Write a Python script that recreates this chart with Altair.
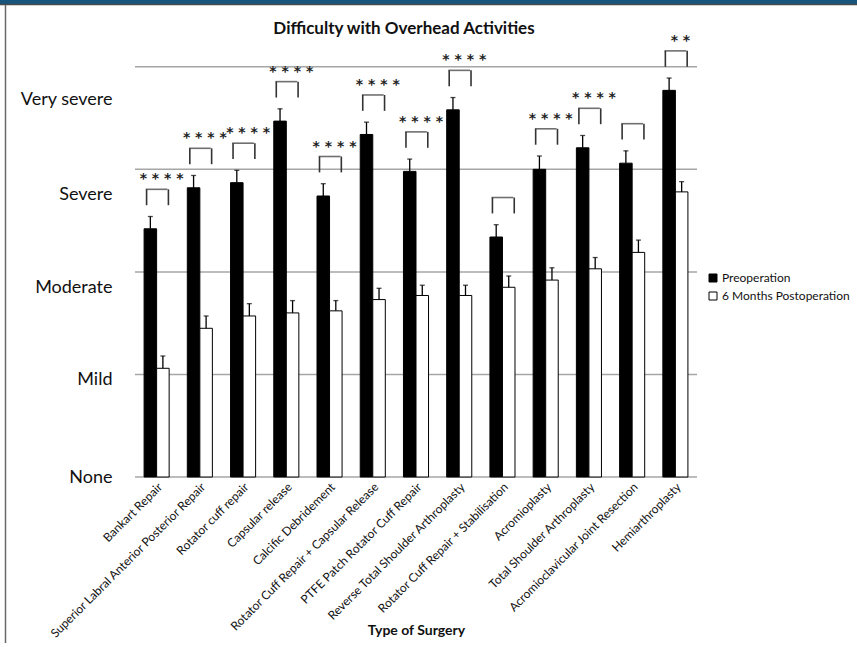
import json
import altair as alt
import pandas as pd

# Surgery types, left to right
categories = [
    "Bankart Repair",
    "Superior Labral Anterior Posterior Repair",
    "Rotator cuff repair",
    "Capsular release",
    "Calcific Debridement",
    "Rotator Cuff Repair + Capsular Release",
    "PTFE Patch Rotator Cuff Repair",
    "Reverse Total Shoulder Arthroplasty",
    "Rotator Cuff Repair + Stabilisation",
    "Acromioplasty",
    "Total Shoulder Arthroplasty",
    "Acromioclavicular Joint Resection",
    "Hemiarthroplasty",
]

periods = ["Preoperation", "6 Months Postoperation"]

# Mean difficulty score (0 = None ... 4 = Very severe) and error
preop = [2.42, 2.82, 2.87, 3.47, 2.74, 3.34, 2.98, 3.58, 2.34, 3.00, 3.21, 3.06, 3.77]
preop_err = [0.12, 0.12, 0.12, 0.12, 0.12, 0.12, 0.12, 0.12, 0.12, 0.13, 0.12, 0.12, 0.12]
postop = [1.06, 1.45, 1.57, 1.60, 1.62, 1.73, 1.77, 1.77, 1.85, 1.92, 2.03, 2.19, 2.78]
postop_err = [0.12, 0.12, 0.12, 0.12, 0.10, 0.11, 0.10, 0.10, 0.11, 0.12, 0.11, 0.12, 0.10]

# Significance of the pre/post difference
significance = ["****", "****", "****", "****", "****", "****", "****", "****",
                "", "****", "****", "", "**"]

# Severity wording on the y axis and where each word sits
severity_labels = ["None", "Mild", "Moderate", "Severe", "Very severe"]
severity_pos = [0.0, 0.95, 1.85, 2.75, 3.68]
grid_levels = [0, 1, 2, 3, 4]

FONT = "Lato"
INK = "#111111"

long_rows = []
for i, c in enumerate(categories):
    long_rows.append({"surgery": c, "period": periods[0], "score": preop[i], "err": preop_err[i]})
    long_rows.append({"surgery": c, "period": periods[1], "score": postop[i], "err": postop_err[i]})
long_df = pd.DataFrame(long_rows)

sig_df = pd.DataFrame({
    "surgery": categories,
    "preop": preop,
    "preop_err": preop_err,
    "stars": [" ".join(s) for s in significance],
})

y_scale = alt.Scale(domain=[0, 4.3], nice=False, zero=True)
label_expr = "{}[indexof({}, datum.value)]".format(json.dumps(severity_labels), json.dumps(severity_pos))
y_axis = alt.Axis(
    values=severity_pos, labelExpr=label_expr, ticks=False, domain=False, grid=False,
    labelFontSize=18, labelFont=FONT, labelColor=INK, labelPadding=23,
)

x_scale = alt.Scale(domain=categories, paddingInner=0.42, paddingOuter=0.21)
x_axis = alt.Axis(
    labelAngle=-45, labelFontSize=12, labelFont=FONT, labelColor=INK, labelPadding=4,
    labelLimit=400, labelOverlap=False, ticks=False, domain=False, grid=False,
    title="Type of Surgery", titleFont=FONT, titleFontSize=14, titleFontWeight="bold",
    titleColor=INK, titleY=153, titleBaseline="middle",
)


def xenc(band=0.5):
    return alt.X("surgery:N", sort=categories, scale=x_scale, axis=x_axis, bandPosition=band)


x_off = alt.XOffset("period:N", sort=periods, scale=alt.Scale(domain=periods, paddingInner=0, paddingOuter=0))

# Horizontal reference lines at each severity step
grid = alt.Chart(pd.DataFrame({"level": grid_levels})).mark_rule(
    color="#a6a6a6", strokeWidth=1.5
).encode(y=alt.Y("level:Q", scale=y_scale, axis=y_axis, title=None))

bars = alt.Chart(long_df).mark_bar(stroke="black", strokeWidth=1).encode(
    x=xenc(),
    xOffset=x_off,
    y=alt.Y("score:Q", scale=y_scale, axis=y_axis, title=None),
    fill=alt.Fill(
        "period:N", sort=periods,
        scale=alt.Scale(domain=periods, range=["black", "white"]),
        legend=alt.Legend(
            title=None, orient="none", legendX=572, legendY=236,
            symbolType="square", symbolSize=64, symbolStrokeColor="black",
            symbolStrokeWidth=1, labelFont=FONT, labelFontSize=12,
            labelColor=INK, rowPadding=6, labelOffset=3,
        ),
    ),
)

err_base = alt.Chart(long_df).transform_calculate(top="datum.score + datum.err")
err_lines = err_base.mark_rule(color="black", strokeWidth=1.3).encode(
    x=xenc(), xOffset=x_off,
    y=alt.Y("score:Q", scale=y_scale, axis=y_axis, title=None), y2="top:Q",
)
err_caps = err_base.mark_tick(color="black", thickness=1.3, size=5, orient="horizontal").encode(
    x=xenc(), xOffset=x_off,
    y=alt.Y("top:Q", scale=y_scale, axis=y_axis, title=None),
)

# Significance brackets above each pair of bars
br = alt.Chart(sig_df).transform_calculate(
    low="datum.preop + datum.preop_err + 0.11",
    high="datum.preop + datum.preop_err + 0.265",
)
leg_left = br.mark_rule(color="#333333", strokeWidth=1.6).encode(
    x=xenc(0.1), y=alt.Y("low:Q", scale=y_scale, axis=y_axis, title=None), y2="high:Q",
)
leg_right = br.mark_rule(color="#333333", strokeWidth=1.6).encode(
    x=xenc(0.97), y=alt.Y("low:Q", scale=y_scale, axis=y_axis, title=None), y2="high:Q",
)
bracket_top = br.mark_tick(color="#333333", thickness=1.6, size=21.75, orient="horizontal").encode(
    x=xenc(0.535), y=alt.Y("high:Q", scale=y_scale, axis=y_axis, title=None),
)
stars = br.mark_text(
    font="DejaVu Sans", fontSize=14, fontWeight="bold", color="#222222",
    baseline="alphabetic", dy=-6,
).encode(
    x=xenc(0.7), y=alt.Y("high:Q", scale=y_scale, axis=y_axis, title=None), text="stars:N",
)

# Page frame: blue band along the top and a thin rule down the left side
frame_df = pd.DataFrame({"k": [0]})
top_band = alt.Chart(frame_df).mark_rect(color="#17557f").encode(
    x=alt.value(-135), x2=alt.value(722), y=alt.value(-36), y2=alt.value(-32),
)
top_line = alt.Chart(frame_df).mark_rule(color="#4a4a4a", strokeWidth=1.5).encode(
    x=alt.value(-135), x2=alt.value(722), y=alt.value(-31.5),
)
left_line = alt.Chart(frame_df).mark_rule(color="#6a6a6a", strokeWidth=1.5).encode(
    x=alt.value(-129.5), y=alt.value(-31), y2=alt.value(607),
)

chart = alt.layer(
    grid, bars, err_lines, err_caps, leg_left, leg_right, bracket_top, stars,
    top_band, top_line, left_line,
).properties(
    width=562,
    height=441,
    title=alt.Title(
        "Difficulty with Overhead Activities", font=FONT, fontSize=17,
        fontWeight="bold", color=INK, offset=-55, baseline="bottom",
        dx=-12, anchor="middle", frame="group",
    ),
    autosize=alt.AutoSizeParams(type="none"),
    padding={"left": 135, "top": 36, "right": 160, "bottom": 170},
).configure(background="white").configure_view(strokeWidth=0, stroke="transparent")

chart.save("out.html", embed_options={"renderer": "svg", "actions": False})
